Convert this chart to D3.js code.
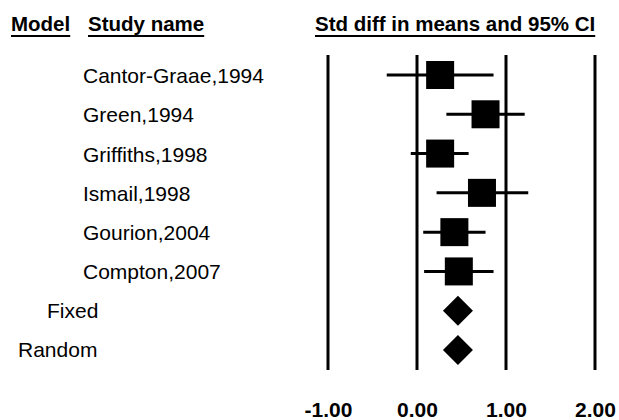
<!DOCTYPE html>
<html>
<head>
<meta charset="utf-8">
<script src="https://cdn.jsdelivr.net/npm/d3@7"></script>
<style>
  body { margin: 0; background: #fff; }
  text { font-family: "Liberation Sans", Arial, sans-serif; fill: #000; }
</style>
</head>
<body>
<script>
// Forest plot: std diff in means and 95% CI

// Data
var studies = ["Cantor-Graae,1994", "Green,1994", "Griffiths,1998",
    "Ismail,1998", "Gourion,2004", "Compton,2007"];
var estimates = [0.26, 0.77, 0.26, 0.73, 0.42, 0.47];
var lowerCI = [-0.34, 0.33, -0.07, 0.22, 0.07, 0.08];
var upperCI = [0.86, 1.21, 0.58, 1.25, 0.77, 0.86];
var models = ["Fixed", "Random"];
var modelEstimates = [0.46, 0.46];
var tickValues = [-1, 0, 1, 2];
var headers = ["Model", "Study name", "Std diff in means and 95% CI"];

var width = 619,
    height = 420;

var svg = d3.select("body")
    .append("svg")
    .attr("width", width)
    .attr("height", height);

// x scale for effect size
var x = d3.scaleLinear()
    .domain([-1, 2])
    .range([328, 595]);

// one row per study, then the two summary rows
var rows = studies.concat(models);
var y = d3.scalePoint()
    .domain(rows)
    .range([75, 350]);

// Vertical reference lines
svg.append("g")
    .selectAll("line")
    .data(tickValues)
    .enter().append("line")
    .attr("x1", function(d) { return x(d); })
    .attr("x2", function(d) { return x(d); })
    .attr("y1", 55)
    .attr("y2", 370)
    .attr("stroke", "#000")
    .attr("stroke-width", 3);

// Axis labels (plain hyphen for the minus sign, as in the original)
var axis = d3.axisBottom(x)
    .tickValues(tickValues)
    .tickSize(0)
    .tickPadding(0)
    .tickFormat(function(d) { return d.toFixed(2); });

var axisG = svg.append("g")
    .attr("transform", "translate(0,402)")
    .call(axis);
axisG.select(".domain").remove();
axisG.selectAll("text")
    .attr("dy", "0.71em")
    .style("font-family", "'Liberation Sans', Arial, sans-serif")
    .style("font-size", "21px")
    .style("font-weight", "bold")
    .attr("fill", "#000");

// Headers with underlines
var headerX = [11, 88, 315];
headers.forEach(function(h, i) {
    var t = svg.append("text")
        .attr("x", headerX[i])
        .attr("y", 31)
        .style("font-size", "20.5px")
        .style("font-weight", "bold")
        .text(h);
    var w = t.node().getComputedTextLength();
    svg.append("line")
        .attr("x1", headerX[i])
        .attr("x2", headerX[i] + w)
        .attr("y1", 36)
        .attr("y2", 36)
        .attr("stroke", "#000")
        .attr("stroke-width", 2);
});

// Study names
svg.append("g")
    .selectAll("text")
    .data(studies)
    .enter().append("text")
    .attr("x", 83)
    .attr("y", function(d) { return y(d) + 8; })
    .style("font-size", "21px")
    .text(function(d) { return d; });

// Model names
var modelX = [47, 18];
svg.append("g")
    .selectAll("text")
    .data(models)
    .enter().append("text")
    .attr("x", function(d, i) { return modelX[i]; })
    .attr("y", function(d) { return y(d) + 7; })
    .style("font-size", "21px")
    .text(function(d) { return d; });

// Confidence intervals
svg.append("g")
    .selectAll("line")
    .data(studies)
    .enter().append("line")
    .attr("x1", function(d, i) { return x(lowerCI[i]); })
    .attr("x2", function(d, i) { return x(upperCI[i]); })
    .attr("y1", function(d) { return y(d); })
    .attr("y2", function(d) { return y(d); })
    .attr("stroke", "#000")
    .attr("stroke-width", 3);

// Point estimate boxes
var box = 28;
svg.append("g")
    .selectAll("rect")
    .data(studies)
    .enter().append("rect")
    .attr("x", function(d, i) { return x(estimates[i]) - box / 2; })
    .attr("y", function(d) { return y(d) - box / 2; })
    .attr("width", box)
    .attr("height", box)
    .attr("fill", "#000");

// Summary diamonds
var half = 15;
svg.append("g")
    .selectAll("path")
    .data(models)
    .enter().append("path")
    .attr("d", function(d, i) {
        var cx = x(modelEstimates[i]), cy = y(d);
        return "M" + (cx - half) + "," + cy +
            "L" + cx + "," + (cy - half) +
            "L" + (cx + half) + "," + cy +
            "L" + cx + "," + (cy + half) + "Z";
    })
    .attr("fill", "#000");
</script>
</body>
</html>
